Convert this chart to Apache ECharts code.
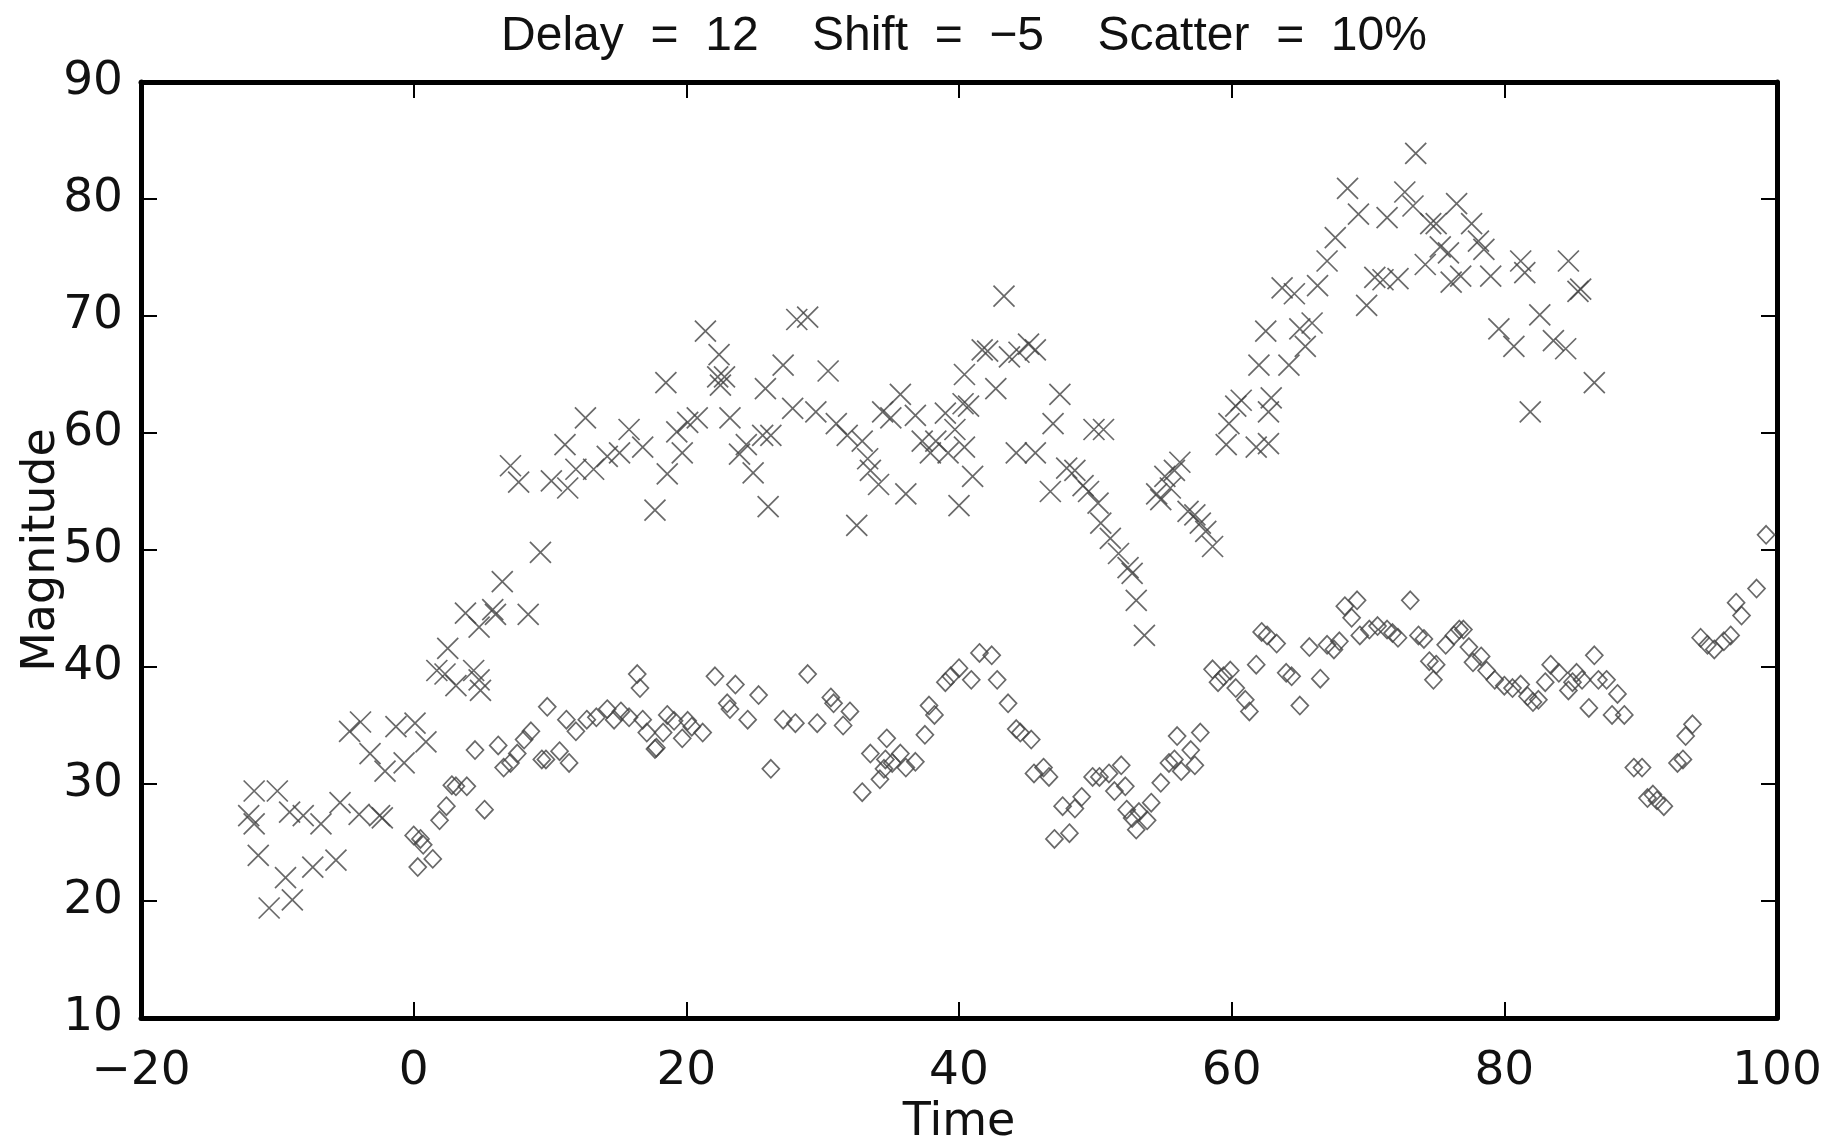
<!DOCTYPE html>
<html>
<head>
<meta charset="utf-8">
<title>Delay Shift Scatter</title>
<script src="https://cdn.jsdelivr.net/npm/echarts@6/dist/echarts.min.js"></script>
<style>
html,body{margin:0;padding:0;background:#fff;}
#main{width:1845px;height:1144px;}
</style>
</head>
<body>
<div id="main"></div>
<script>
// 标题和坐标轴文字
var titleText = 'Delay  =  12    Shift  =  \u22125    Scatter  =  10%';
var xName = 'Time';
var yName = 'Magnitude';
var xTicks = [-20, 0, 20, 40, 60, 80, 100];
var yTicks = [10, 20, 30, 40, 50, 60, 70, 80, 90];

// 叉号: 原始曲线 (time, magnitude)
var crossTime = [-12.1,-11.7,-11.7,-11.4,-10.6,-10,-9.4,-8.9,-9.1,-8.1,-7.4,-6.8,-5.7,-5.4,-4.7,-3.9,-4,-3.2,-2.5,-2.1,-2.3,-1.3,-0.7,0.1,0.9,1.7,2.5,2.3,3.1,3.8,4.4,4.8,4.9,4.8,5.8,6,6.5,7.1,7.7,8.4,9.3,10.1,11.1,11.3,11.9,12.6,13.2,14.2,15.1,15.8,16.8,17.7,18.5,18.6,19.3,19.7,20.1,20.8,21.4,22.4,22.3,22.5,22.8,23.2,23.9,24.4,24.9,25.6,25.8,26.2,26,27.1,27.8,28.1,28.9,29.5,30.4,31,31.8,32.5,32.9,33.3,33.5,34.1,34.4,35,35.7,36.1,36.8,37.3,37.9,38.3,39,39.2,39.7,40,40.3,40.4,40.4,40.7,41,41.7,42.1,42.7,43.3,43.7,44.2,44.4,45.1,45.6,45.6,46.7,46.9,47.4,47.9,48.5,49.1,49.5,49.9,50.2,50.6,50.4,51.1,51.7,52.4,52.7,53,53.6,54.5,54.8,55.1,55.5,55.8,56.2,56.8,57.3,57.7,58.1,58.6,59.6,59.8,60.3,60.7,61.8,62,62.5,62.7,62.7,62.9,63.7,64.2,64.6,65,65.4,65.9,66.3,67,67.6,68.5,69.3,69.9,70.5,71.1,71.4,72.2,72.7,73.3,73.5,74.2,74.6,75,75.3,75.9,76.1,76.5,76.8,77.6,78.1,78.5,79,79.6,80.7,81.2,81.5,81.9,82.6,83.6,84.5,84.7,85.4,85.6,86.6];
var crossMag = [27.3,26.6,29.4,23.9,19.4,29.4,22,20.1,27.6,27.3,22.9,26.6,23.5,28.4,34.5,35.3,27.4,32.6,27.3,31.1,27.1,34.9,31.8,35.2,33.6,39.7,41.6,39.4,38.4,44.6,39.7,38.9,38,43.4,44.9,44.5,47.3,57.2,55.8,44.5,49.8,55.9,59,55.3,56.9,61.3,56.9,58,58.3,60.3,58.8,53.4,64.3,56.5,60.1,58.3,60.9,61.3,68.7,66.7,64.8,64.1,64.8,61.3,58.2,59,56.6,59.8,63.8,59.8,53.7,65.8,62.1,69.7,69.9,61.8,65.3,60.8,59.8,52.1,59.3,57.8,56.8,55.6,61.8,61.3,63.3,54.8,61.5,59.3,58.3,59.3,61.7,58.3,60.3,53.8,62.5,65,58.8,62.3,56.3,67.1,67,63.8,71.7,66.5,58.3,66.9,67.6,67.1,58.3,55,60.8,63.3,57,56.8,55.5,55,60.3,54,60.3,52.3,51,49.7,48.5,48,45.7,42.7,54.8,54.3,56.3,55.3,56.8,57.5,53.3,53,52.3,51.6,50.3,59,60.8,62.3,62.8,58.8,65.8,68.7,61.8,59.1,63,72.4,65.8,71.9,68.9,67.4,69.4,72.6,74.7,76.7,80.9,78.7,70.9,73.3,73.1,78.4,73.2,80.6,79.4,83.9,74.4,77.9,77.9,75.9,75.4,72.9,79.6,73.4,77.9,76.4,75.7,73.4,68.9,67.4,74.7,73.7,61.8,70.1,67.9,67.2,74.7,72.1,72.3,64.3];

// 菱形: 延迟后的曲线
var diamondTime = [0,0.3,0.5,0.7,1.4,1.9,2.4,2.8,3.1,3.9,4.5,5.2,6.2,6.6,7.1,7.6,8.1,8.6,9.4,9.7,9.8,10.7,11.2,11.4,11.9,12.7,13.4,14.2,14.7,15.2,15.8,16.4,16.6,16.8,17.1,17.7,17.8,18.3,18.6,19.1,19.7,20.1,20.4,21.2,22.1,23,23.2,23.6,24.5,25.3,26.2,27.1,28,28.9,29.6,30.6,30.8,31.5,32,32.9,33.5,34.2,34.6,34.7,34.5,35.1,35.7,36.1,36.8,37.5,37.8,38.2,39,39.4,40,40.9,41.5,42.4,42.8,43.6,44.2,44.5,45.3,45.5,46.2,46.6,47,47.6,48.1,48.5,49,49.8,50.3,51,51.4,51.9,52.2,52.3,52.7,53,53.2,53.8,54.1,54.8,55.4,55.8,56,56.3,57,57.3,57.7,58.6,59,59.4,59.9,60.3,61,61.3,61.8,62.2,62.6,63.3,64,64.4,65,65.7,66.5,67,67.5,67.9,68.3,68.8,69.2,69.4,70.1,70.7,71.4,71.8,72.2,73.1,73.7,74.1,74.5,74.8,75,75.7,76.3,76.7,77,77.4,77.7,78.3,78.7,79.3,80,80.6,81.2,81.7,82.1,82.5,83,83.4,84,84.7,85,85.3,85.7,86.2,86.6,86.9,87.5,87.9,88.3,88.8,89.5,90.1,90.5,90.9,91.2,91.7,92.7,93.1,93.3,93.8,94.4,94.9,95.4,96.1,96.6,97,97.4,98.5,99.2];
var diamondMag = [25.6,22.9,25.3,24.8,23.6,26.9,28.1,29.9,29.8,29.8,32.9,27.8,33.3,31.4,31.8,32.6,33.8,34.5,32.1,32.1,36.6,32.8,35.5,31.8,34.5,35.5,35.7,36.4,35.5,36.2,35.7,39.4,38.2,35.5,34.4,33,33.1,34.4,35.9,35.4,33.9,35.4,34.9,34.4,39.2,36.9,36.4,38.5,35.5,37.6,31.3,35.5,35.2,39.4,35.2,37.4,36.9,35,36.2,29.3,32.6,30.4,32.1,33.9,31.3,31.8,32.6,31.4,31.9,34.2,36.7,35.9,38.7,39.2,39.9,38.9,41.2,41,38.9,36.9,34.7,34.4,33.8,30.9,31.4,30.6,25.3,28.1,25.8,27.9,28.9,30.6,30.6,30.9,29.4,31.6,29.8,27.8,27.1,26.1,27.6,26.9,28.4,30.1,31.8,32.1,34.1,31.1,32.9,31.6,34.4,39.8,38.7,39.2,39.7,38.2,37.2,36.2,40.2,43,42.7,42,39.5,39.2,36.7,41.7,39,41.9,41.5,42.2,45.2,44.2,45.7,42.7,43.2,43.5,43.2,42.9,42.5,45.7,42.7,42.4,40.5,38.9,40.2,41.9,42.7,43.2,43.2,41.7,40.4,40.9,39.7,38.9,38.4,38.2,38.5,37.5,37,37.2,38.7,40.2,39.5,38,38.7,39.5,38.9,36.5,41,38.9,38.9,35.9,37.7,35.9,31.4,31.4,28.8,29.1,28.6,28.1,31.8,32.1,34.1,35.1,42.5,41.9,41.5,42.2,42.7,45.5,44.4,46.7,51.3];

var font = 'DejaVu Sans';
var titleFont = 'Liberation Sans';
var ink = '#444';

function pairs(xs, ys){
    var out = [];
    for (var i = 0; i < xs.length; i++) out.push([xs[i], ys[i]]);
    return out;
}
function minusFmt(v){
    return String(v).replace('-', '\u2212');
}

// 坐标轴公共样式
function axisBase(extra){
    var a = {
        type: 'value',
        axisLine: {show: true, onZero: false, lineStyle: {color: '#000', width: 5}},
        axisTick: {show: true, inside: true, length: 16, lineStyle: {color: '#000', width: 2}},
        splitLine: {show: false}
    };
    for (var k in extra) a[k] = extra[k];
    return a;
}

var chart = echarts.init(document.getElementById('main'));

var option = {
    animation: false,
    backgroundColor: '#fff',
    title: {
        text: titleText,
        left: 959,
        textAlign: 'center',
        top: 8,
        textStyle: {fontFamily: titleFont, fontSize: 48, fontWeight: 'normal', color: '#111'}
    },
    // 固定绘图区, 不让 v6 自动收缩
    grid: {left: 141, right: 68, top: 82, bottom: 126, outerBoundsMode: 'none', containLabel: false},
    xAxis: [
        axisBase({
            min: xTicks[0], max: xTicks[xTicks.length - 1], interval: 20,
            name: xName, nameLocation: 'middle', nameGap: 76,
            nameTextStyle: {fontFamily: font, fontSize: 46, color: '#111'},
            axisLabel: {margin: 30, fontFamily: font, fontSize: 47, color: '#111', formatter: minusFmt}
        }),
        axisBase({
            position: 'top',
            min: xTicks[0], max: xTicks[xTicks.length - 1], interval: 20,
            axisLabel: {show: false}
        })
    ],
    yAxis: [
        axisBase({
            min: yTicks[0], max: yTicks[yTicks.length - 1], interval: 10,
            name: yName, nameLocation: 'middle', nameGap: 76, nameMoveOverlap: false,
            nameTextStyle: {fontFamily: font, fontSize: 46, color: '#111'},
            axisLabel: {margin: 18, fontFamily: font, fontSize: 47, color: '#111'}
        }),
        axisBase({
            position: 'right',
            min: yTicks[0], max: yTicks[yTicks.length - 1], interval: 10,
            axisLabel: {show: false}
        })
    ],
    series: [
        {
            name: 'cross',
            type: 'scatter',
            xAxisIndex: 0, yAxisIndex: 0,
            data: pairs(crossTime, crossMag),
            symbol: 'path://M0,0L10,10M10,0L0,10',
            symbolSize: 21,
            itemStyle: {color: 'transparent', borderColor: ink, borderWidth: 1.7}
        },
        {
            name: 'diamond',
            type: 'scatter',
            xAxisIndex: 0, yAxisIndex: 0,
            data: pairs(diamondTime, diamondMag),
            symbol: 'diamond',
            symbolSize: [17, 18],
            itemStyle: {color: 'transparent', borderColor: ink, borderWidth: 1.7}
        }
    ]
};

chart.setOption(option);
</script>
</body>
</html>
